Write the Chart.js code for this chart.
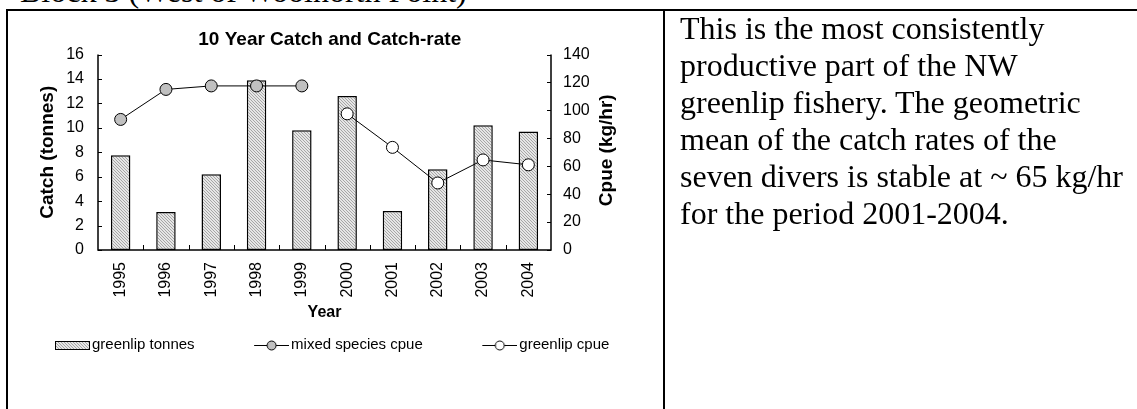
<!DOCTYPE html>
<html>
<head>
<meta charset="utf-8">
<script src="https://cdn.jsdelivr.net/npm/chart.js@4/dist/chart.umd.min.js"></script>
<style>
html,body{margin:0;padding:0;background:#fff;}
#wrap{position:relative;width:1137px;height:409px;overflow:hidden;background:#fff;}
#head{position:absolute;left:20px;top:-25px;font-family:"Liberation Serif","Times New Roman",serif;font-size:32px;line-height:32px;white-space:nowrap;color:#000;}
.ln{position:absolute;background:#000;}
#note{position:absolute;left:680px;top:10px;font-family:"Liberation Serif","Times New Roman",serif;font-size:32px;line-height:37px;white-space:nowrap;color:#000;}
#cv{position:absolute;left:-20px;top:0;}
</style>
</head>
<body>
<div id="wrap">
  <div id="head">Block 3 (West of Woolnorth Point)</div>
  <canvas id="cv" width="684" height="409"></canvas>
  <div class="ln" style="left:6px;top:9px;width:1131px;height:2px;"></div>
  <div class="ln" style="left:6px;top:9px;width:2px;height:400px;"></div>
  <div class="ln" style="left:663px;top:9px;width:2px;height:400px;"></div>
  <div id="note">This is the most consistently<br>productive part of the NW<br>greenlip fishery. The geometric<br>mean of the catch rates of the<br>seven divers is stable at ~ 65 kg/hr<br>for the period 2001-2004.</div>
</div>
<script>
// ---- data ----
const years = ['1995','1996','1997','1998','1999','2000','2001','2002','2003','2004'];
const greenlipTonnes = [7.75, 3.1, 6.2, 13.9, 9.8, 12.6, 3.2, 6.6, 10.2, 9.7];
const mixedSpeciesCpue = [93.5, 115, 117.5, 117.5, 117.5, null, null, null, null, null];
const greenlipCpue = [null, null, null, null, null, 97.5, 73.5, 48, 64.5, 61];
const seriesNames = ['greenlip tonnes', 'mixed species cpue', 'greenlip cpue'];
const catchRange = [0, 16];
const catchStep = 2;
const cpueRange = [0, 140];
const cpueStep = 20;
const chartTitle = '10 Year Catch and Catch-rate';
const catchTitle = 'Catch (tonnes)';
const cpueTitle = 'Cpue (kg/hr)';
const yearTitle = 'Year';

const SANS = '"Liberation Sans", Arial, Helvetica, sans-serif';

function makeHatch() {
  const c = document.createElement('canvas');
  c.width = 3; c.height = 3;
  const g = c.getContext('2d');
  g.fillStyle = '#e6e6e6';
  g.fillRect(0, 0, 3, 3);
  g.fillStyle = '#a6a6a6';
  g.fillRect(0, 0, 1, 1);
  g.fillRect(1, 1, 1, 1);
  g.fillRect(2, 2, 1, 1);
  return g.createPattern(c, 'repeat');
}
const hatch = makeHatch();

function legendBarImg() {
  const c = document.createElement('canvas');
  c.width = 89; c.height = 12;
  const g = c.getContext('2d');
  g.fillStyle = hatch;
  g.fillRect(54.5, 2.5, 34, 8);
  g.strokeStyle = '#000';
  g.lineWidth = 1;
  g.strokeRect(54.5, 2.5, 34, 8);
  return c;
}
function legendLineImg(fill) {
  const c = document.createElement('canvas');
  c.width = 89; c.height = 12;
  const g = c.getContext('2d');
  g.strokeStyle = '#000';
  g.lineWidth = 1;
  g.beginPath(); g.moveTo(54, 6.5); g.lineTo(89, 6.5); g.stroke();
  g.beginPath(); g.arc(71.5, 6.5, 4.5, 0, Math.PI * 2);
  g.fillStyle = fill; g.fill(); g.stroke();
  return c;
}
const legendImgs = [legendBarImg(), legendLineImg('#c0c0c0'), legendLineImg('#ffffff')];

const axisDeco = {
  id: 'axisDeco',
  afterDatasetsDraw(chart) {
    const {ctx, chartArea: a, scales} = chart;
    const x = scales.x, yC = scales.yC, yR = scales.yR;
    ctx.save();
    ctx.strokeStyle = '#000';
    ctx.lineWidth = 1.5;
    ctx.beginPath();
    ctx.moveTo(a.left, a.top); ctx.lineTo(a.left, a.bottom);
    ctx.lineTo(a.right, a.bottom); ctx.lineTo(a.right, a.top);
    ctx.stroke();
    ctx.lineWidth = 1;
    ctx.beginPath();
    yC.ticks.forEach(t => { const y = Math.round(yC.getPixelForValue(t.value)) + 0.5; ctx.moveTo(a.left, y); ctx.lineTo(a.left + 4, y); });
    yR.ticks.forEach(t => { const y = Math.round(yR.getPixelForValue(t.value)) + 0.5; ctx.moveTo(a.right - 4, y); ctx.lineTo(a.right, y); });
    const half = (x.getPixelForValue(1) - x.getPixelForValue(0)) / 2;
    for (let i = 1; i < years.length; i++) {
      const bx = Math.round(x.getPixelForValue(i) - half) + 0.5;
      ctx.moveTo(bx, a.bottom); ctx.lineTo(bx, a.bottom - 5);
    }
    ctx.stroke();
    // right axis title (reads bottom-to-top)
    ctx.translate(a.right + 56, (a.top + a.bottom) / 2 - 2);
    ctx.rotate(-Math.PI / 2);
    ctx.font = 'bold 19px ' + SANS;
    ctx.fillStyle = '#000';
    ctx.textAlign = 'center';
    ctx.textBaseline = 'middle';
    ctx.fillText(cpueTitle, 0, 0);
    ctx.restore();
  }
};

Chart.defaults.color = '#000';
Chart.defaults.font.family = SANS;

new Chart(document.getElementById('cv'), {
  type: 'bar',
  data: {
    labels: years,
    datasets: [
      {
        type: 'bar', label: seriesNames[0], data: greenlipTonnes, yAxisID: 'yC',
        backgroundColor: hatch, borderColor: '#000', borderWidth: 1.5, borderSkipped: false,
        categoryPercentage: 1, barPercentage: 0.43, order: 2
      },
      {
        type: 'line', label: seriesNames[1], data: mixedSpeciesCpue, yAxisID: 'yR',
        borderColor: '#000', borderWidth: 1, pointRadius: 6, pointBorderWidth: 1,
        pointBackgroundColor: '#c0c0c0', pointBorderColor: '#000', spanGaps: false, tension: 0, order: 1
      },
      {
        type: 'line', label: seriesNames[2], data: greenlipCpue, yAxisID: 'yR',
        borderColor: '#000', borderWidth: 1, pointRadius: 6, pointBorderWidth: 1,
        pointBackgroundColor: '#ffffff', pointBorderColor: '#000', spanGaps: false, tension: 0, order: 0
      }
    ]
  },
  options: {
    responsive: false,
    animation: false,
    devicePixelRatio: 1,
    layout: { padding: { left: 15.5, right: 0, top: 12, bottom: 46.5 } },
    plugins: {
      tooltip: { enabled: false },
      title: {
        display: true, text: chartTitle, color: '#000',
        font: { family: SANS, size: 19, weight: 'bold' },
        padding: { top: 16.6, bottom: 3.1 }
      },
      legend: {
        display: true, position: 'bottom', align: 'start',
        labels: {
          usePointStyle: true, pointStyleWidth: 78, padding: 11, color: '#000',
          font: { family: SANS, size: 15 },
          generateLabels(chart) {
            return chart.data.datasets.map((ds, i) => ({
              text: ds.label, pointStyle: legendImgs[i], datasetIndex: i, hidden: false,
              fillStyle: 'rgba(0,0,0,0)', strokeStyle: 'rgba(0,0,0,0)', lineWidth: 0, fontColor: '#000'
            }));
          }
        }
      }
    },
    scales: {
      x: {
        type: 'category', offset: true,
        grid: { display: false, drawTicks: false },
        border: { display: false },
        ticks: { minRotation: 90, maxRotation: 90, padding: 12, font: { family: SANS, size: 16 }, color: '#000', autoSkip: false },
        title: { display: true, text: yearTitle, color: '#000', font: { family: SANS, size: 16, weight: 'bold' }, padding: { top: 5, bottom: 4 } },
        afterFit(s) { s.height = 76.5; }
      },
      yC: {
        position: 'left', min: catchRange[0], max: catchRange[1],
        grid: { display: false, drawTicks: false },
        border: { display: false },
        ticks: { stepSize: catchStep, padding: 14, font: { family: SANS, size: 16 }, color: '#000' },
        title: { display: true, text: catchTitle, color: '#000', font: { family: SANS, size: 19, weight: 'bold' }, padding: { top: 41.1, bottom: 0 } },
        afterFit(s) { s.width = 102.5; }
      },
      yR: {
        position: 'right', min: cpueRange[0], max: cpueRange[1],
        grid: { display: false, drawTicks: false },
        border: { display: false },
        ticks: { stepSize: cpueStep, padding: 12, font: { family: SANS, size: 16 }, color: '#000' },
        afterFit(s) { s.width = 113; }
      }
    }
  },
  plugins: [axisDeco]
});
</script>
</body>
</html>
